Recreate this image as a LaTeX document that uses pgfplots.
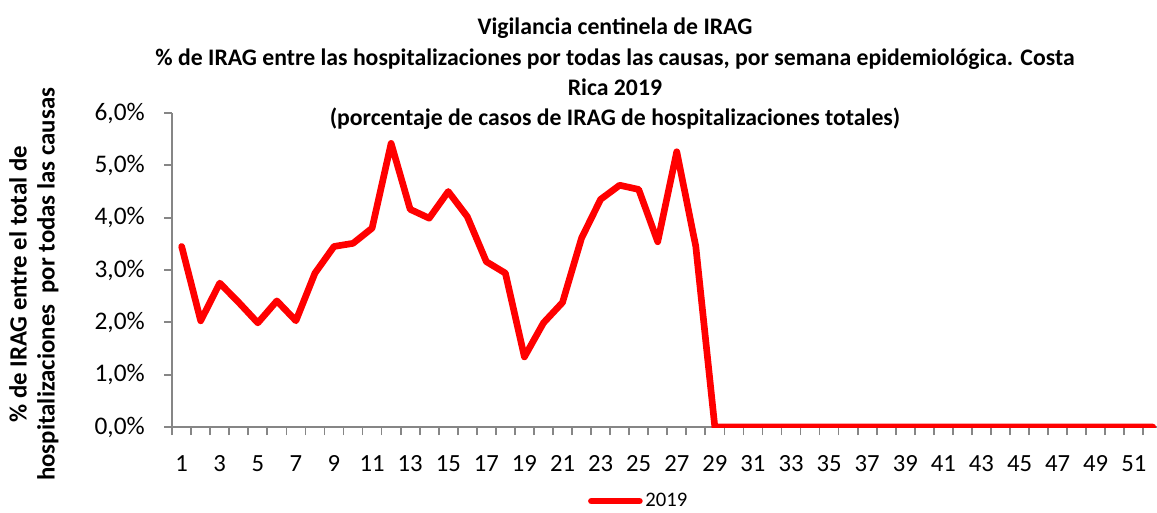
\documentclass[border=0pt]{standalone}
\usepackage{fontspec}
\setmainfont{Carlito}
\usepackage{pgfplots}
\pgfplotsset{compat=1.18}
\definecolor{axgray}{RGB}{134,134,134}

\begin{document}
\begin{tikzpicture}
\useasboundingbox (-129.1pt,-63.75pt) rectangle (738.6pt,320.25pt);
\begin{axis}[scale only axis,width=742.6pt,height=235.5pt,
xmin=0.5,xmax=52.5,ymin=0,ymax=6,
axis lines=left,axis line style={-,axgray,line width=1.3pt},
tick align=outside,major tick length=6pt,
tick style={axgray,line width=1.3pt},
ytick={0,1,2,3,4,5,6},
yticklabels={{0,0\%},{1,0\%},{2,0\%},{3,0\%},{4,0\%},{5,0\%},{6,0\%}},
yticklabel style={font=\fontsize{19}{21}\selectfont,xshift=-11pt},
xtick={0.5,1.5,...,52.5},xticklabels={},
extra x ticks={1,3,...,51},
extra x tick style={major tick length=0pt,
  xticklabel style={font=\fontsize{18.5}{20}\selectfont,yshift=-18pt}},
/pgf/number format/assume math mode=true,
legend style={at={(0.4715,-0.2357)},anchor=center,draw=none,
  font=\fontsize{15.5}{17}\selectfont},
legend image code/.code={\draw[#1,line cap=round] (0pt,0pt) -- (36pt,0pt);}]
\addplot[red,line width=5pt,line cap=round,line join=round] table {
x y
1 3.45
2 2.03
3 2.75
4 2.38
5 1.99
6 2.41
7 2.03
8 2.94
9 3.45
10 3.51
11 3.80
12 5.42
13 4.16
14 3.99
15 4.50
16 4.02
17 3.16
18 2.94
19 1.34
20 1.99
21 2.38
22 3.61
23 4.35
24 4.62
25 4.54
26 3.54
27 5.26
28 3.45
29 0
30 0
31 0
32 0
33 0
34 0
35 0
36 0
37 0
38 0
39 0
40 0
41 0
42 0
43 0
44 0
45 0
46 0
47 0
48 0
49 0
50 0
51 0
52 0
};
\addlegendentry{2019}
\end{axis}
\node[align=center,font=\bfseries\fontsize{17.8}{22.75}\selectfont] at (332.1pt,264.8pt)
{Vigilancia centinela de IRAG\\\% de IRAG entre las hospitalizaciones por todas las causas, por semana epidemiológica. Costa\\Rica 2019\\(porcentaje de casos de IRAG de hospitalizaciones totales)};
\node[rotate=90,align=center,font=\bfseries\fontsize{18.6}{21}\selectfont] at (-103.7pt,107pt)
{\% de IRAG entre el total de\\hospitalizaciones \ por todas las causas};
\end{tikzpicture}
\end{document}
